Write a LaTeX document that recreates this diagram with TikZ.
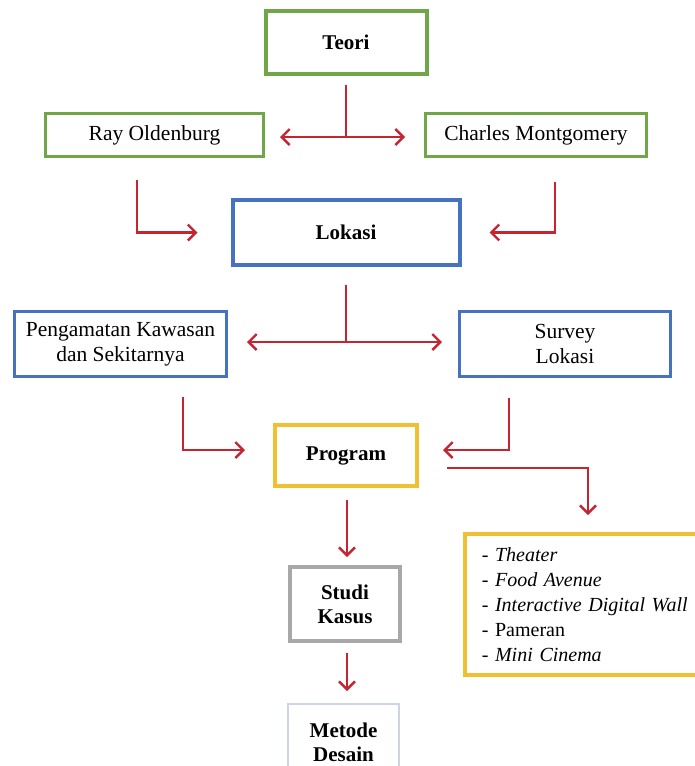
\documentclass[tikz,border=0pt]{standalone}
\usepackage{fontspec}
\setmainfont{Liberation Serif}
\usetikzlibrary{arrows.meta}
\definecolor{boxgreen}{RGB}{112,165,72}
\definecolor{boxblue}{RGB}{70,114,192}
\definecolor{boxgold}{RGB}{238,192,50}
\definecolor{boxgray}{RGB}{168,168,168}
\definecolor{boxpale}{RGB}{204,212,230}
\definecolor{arrowred}{RGB}{198,36,48}

\begin{document}
\begin{tikzpicture}[x=1pt, y=-1pt, >={Straight Barb[length=8pt,width=16pt,line width=2.4pt]},
    box/.style={draw, fill=white, align=center, inner sep=0pt, line width=3pt,
                font=\fontsize{21.5}{25}\selectfont},
    title/.style={box, line width=4pt, font=\fontsize{21}{24}\selectfont\bfseries},
    link/.style={draw=arrowred, line width=2.2pt}]
\useasboundingbox (0,0) rectangle (695,766);
\clip (0,0) rectangle (695,766);

\node[title, draw=boxgreen, minimum width=161, minimum height=63] (teori) at (346,42.5) {Teori};
\node[box, draw=boxgreen, minimum width=218, minimum height=43] (ray) at (154.5,135) {Ray Oldenburg};
\node[box, draw=boxgreen, minimum width=221, minimum height=43] (charles) at (536,135) {Charles Montgomery};
\node[title, draw=boxblue, minimum width=227, minimum height=65] (lokasi) at (346,232.5) {Lokasi};
\node[box, draw=boxblue, minimum width=212, minimum height=65] (pengamatan) at (120.5,344) {Pengamatan Kawasan\\dan Sekitarnya};
\node[box, draw=boxblue, minimum width=211, minimum height=65] (survey) at (565,343.5) {Survey\\Lokasi};
\node[title, draw=boxgold, minimum width=142, minimum height=61] (program) at (346,455.5) {Program};
\node[title, draw=boxgray, minimum width=110, minimum height=74] (studi) at (345,604) {Studi\\Kasus};
\node[title, draw=boxpale, line width=2pt, minimum width=111, minimum height=76] (metode) at (343.5,742) {Metode\\Desain};
\node[box, draw=boxgold, line width=3.5pt, anchor=north west, align=left, text width=228,
      inner xsep=17, minimum height=141, font=\fontsize{20}{25}\selectfont] (program list) at (463,532)
  {- \textit{Theater}\\- \textit{Food Avenue}\\- \textit{Interactive Digital Wall}\\- Pameran\\- \textit{Mini Cinema}};

\draw[link] ([yshift=-9]teori.south) -- ++(0,52) coordinate (teori split);
\draw[link,->] (teori split) -- ([xshift=15]ray.east |- teori split);
\draw[link,->] (teori split) -- ([xshift=-19]charles.west |- teori split);
\draw[link,->] ([xshift=-17.5,yshift=-22]ray.south) |- ([xshift=-33]lokasi.west);
\draw[link,->] ([xshift=19,yshift=-24]charles.south) |- ([xshift=28]lokasi.east);

\draw[link] ([yshift=-18]lokasi.south) -- ++(0,57) coordinate (lokasi split);
\draw[link,->] (lokasi split) -- ([xshift=19]pengamatan.east |- lokasi split);
\draw[link,->] (lokasi split) -- ([xshift=-16]survey.west |- lokasi split);
\draw[link,->] ([xshift=62.5,yshift=-19]pengamatan.south) |- ([xshift=-28,yshift=5.5]program.west);
\draw[link,->] ([xshift=-56,yshift=-20]survey.south) |- ([xshift=24,yshift=5.5]program.east);

\draw[link,->] ([xshift=28,yshift=-12.5]program.east) -| ([xshift=125,yshift=17]program list.north west);
\draw[link,->] ([xshift=1,yshift=-12]program.south) -- ([xshift=2,yshift=8]studi.north);
\draw[link,->] ([xshift=2,yshift=-10]studi.south) -- ([xshift=3.5,yshift=12]metode.north);
\end{tikzpicture}
\end{document}
